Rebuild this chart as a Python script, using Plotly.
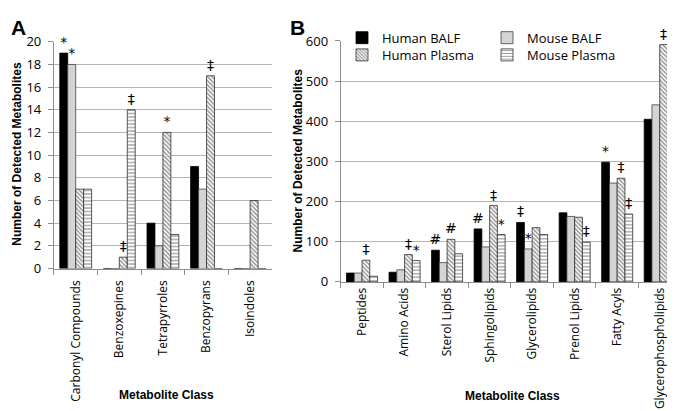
import plotly.graph_objects as go

series = ["Human BALF", "Mouse BALF", "Human Plasma", "Mouse Plasma"]

cats_a = ["Carbonyl Compounds", "Benzoxepines", "Tetrapyrroles", "Benzopyrans", "Isoindoles"]
a_human_balf = [19, 0, 4, 9, 0]
a_mouse_balf = [18, 0, 2, 7, 0]
a_human_plasma = [7, 1, 12, 17, 6]
a_mouse_plasma = [7, 14, 3, 0, 0]
a_marks_hb = ["*", "", "", "", ""]
a_marks_mb = ["*", "", "", "", ""]
a_marks_hp = ["", "‡", "*", "‡", ""]
a_marks_mp = ["", "‡", "", "", ""]

cats_b = ["Peptides", "Amino Acids", "Sterol Lipids", "Sphingolipids", "Glycerolipids",
          "Prenol Lipids", "Fatty Acyls", "Glycerophospholipids"]
b_human_balf = [22, 24, 79, 132, 148, 172, 298, 405]
b_mouse_balf = [22, 30, 48, 87, 82, 163, 246, 441]
b_human_plasma = [54, 68, 106, 190, 135, 161, 258, 591]
b_mouse_plasma = [14, 53, 70, 118, 118, 99, 169, 470]
b_marks_hb = ["", "", "#", "#", "‡", "", "*", ""]
b_marks_mb = ["", "", "", "", "*", "", "", ""]
b_marks_hp = ["‡", "‡", "#", "‡", "", "", "‡", "‡"]
b_marks_mp = ["", "*", "", "*", "", "‡", "‡", ""]

styles = [
    dict(color="black", line=dict(color="black", width=0.8)),
    dict(color="#d4d4d4", line=dict(color="#404040", width=0.8)),
    dict(color="white", line=dict(color="#303030", width=0.8),
         pattern=dict(shape="\\", fgcolor="#303030", bgcolor="white", size=3, solidity=0.5)),
    dict(color="white", line=dict(color="#303030", width=0.8),
         pattern=dict(shape="-", fgcolor="#303030", bgcolor="white", size=3.5, solidity=0.35)),
]

fig = go.Figure()
a_vals = [a_human_balf, a_mouse_balf, a_human_plasma, a_mouse_plasma]
a_marks = [a_marks_hb, a_marks_mb, a_marks_hp, a_marks_mp]
b_vals = [b_human_balf, b_mouse_balf, b_human_plasma, b_mouse_plasma]
b_marks = [b_marks_hb, b_marks_mb, b_marks_hp, b_marks_mp]
legend_ids = ["legend", "legend", "legend2", "legend2"]

markfont = dict(size=14, color="#000000", family="DejaVu Sans")

for i, name in enumerate(series):
    fig.add_trace(go.Bar(x=cats_a, y=a_vals[i], name=name, marker=styles[i],
                         text=a_marks[i], textposition="outside", constraintext="none",
                         textfont=markfont, outsidetextfont=markfont,
                         cliponaxis=False, showlegend=False,
                         xaxis="x", yaxis="y"))
for i, name in enumerate(series):
    fig.add_trace(go.Bar(x=cats_b, y=b_vals[i], name=name, marker=styles[i],
                         text=b_marks[i], textposition="outside", constraintext="none",
                         textfont=markfont, outsidetextfont=markfont,
                         cliponaxis=False, showlegend=True,
                         legend=legend_ids[i], xaxis="x2", yaxis="y2"))

axcol = "#8c8c8c"
gridcol = "#b4b4b4"
tickfont = dict(family="Open Sans", size=12, color="black")
legfont = dict(family="Open Sans", size=13, color="black")

fig.update_layout(
    width=675, height=411,
    margin=dict(l=0, r=0, t=0, b=0),
    paper_bgcolor="white", plot_bgcolor="white",
    barmode="group", bargap=0.27, bargroupgap=0,
    font=dict(family="Open Sans", color="black"),
    xaxis=dict(domain=[0.068, 0.391], anchor="y", type="category",
               tickangle=-90, tickfont=tickfont, showline=True, linecolor=axcol,
               ticks="outside", ticklen=5, tickcolor=axcol, tickson="boundaries",
               showgrid=False, ticklabelstandoff=6),
    yaxis=dict(domain=[0.360, 0.937], anchor="x", range=[0, 20], dtick=2,
               tickfont=dict(family="Open Sans", size=13, color="black"),
               showline=True, linecolor=axcol, ticks="outside", ticklen=5, tickcolor=axcol,
               ticklabelstandoff=4,
               showgrid=True, gridcolor=gridcol, gridwidth=1, zeroline=False),
    xaxis2=dict(domain=[0.493, 0.997], anchor="y2", type="category",
                tickangle=-90, tickfont=tickfont, showline=True, linecolor=axcol,
                ticks="outside", ticklen=5, tickcolor=axcol, tickson="boundaries",
                showgrid=False),
    yaxis2=dict(domain=[0.326, 0.939], anchor="x2", range=[0, 600], dtick=100,
                tickfont=dict(family="Open Sans", size=13, color="black"),
                showline=True, linecolor=axcol, ticks="outside", ticklen=5, tickcolor=axcol,
                ticklabelstandoff=4,
                showgrid=True, gridcolor=gridcol, gridwidth=1, zeroline=False),
    legend=dict(orientation="h", x=334 / 675, y=1 - 6 / 411, xanchor="left", yanchor="top",
                bgcolor="rgba(255,255,255,0)", entrywidth=100, itemwidth=30,
                font=legfont, itemclick=False),
    legend2=dict(orientation="h", x=334 / 675, y=1 - 24 / 411, xanchor="left", yanchor="top",
                 bgcolor="rgba(255,255,255,0)", entrywidth=100, itemwidth=30,
                 font=legfont, itemclick=False),
)

def label(text, x, y, size=12, angle=0, family="Liberation Sans"):
    fig.add_annotation(text=text, x=x / 675, y=1 - y / 411, xref="paper", yref="paper",
                       xanchor="center", yanchor="middle", textangle=angle, showarrow=False,
                       font=dict(family=family, size=size, color="black"))

label("<b>A</b>", 11, 11, size=21)
label("<b>B</b>", 289, 11, size=21)
label("<b>Number of Detected Metabolites</b>", 9, 143, angle=-90)
label("<b>Number of Detected Metabolites</b>", 290, 150, angle=-90)
label("<b>Metabolite Class</b>", 158, 395)
label("<b>Metabolite Class</b>", 504, 396)

fig.write_html("out.html")
